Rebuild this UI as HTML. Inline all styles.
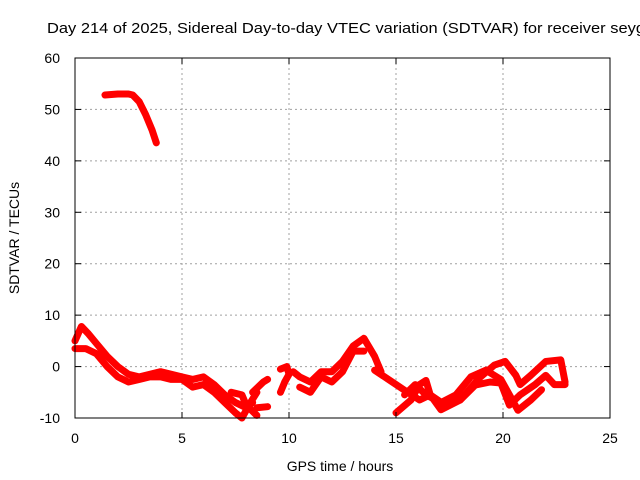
<!DOCTYPE html>
<html><head><meta charset="utf-8"><style>
body{margin:0;background:#fff}
svg{display:block;font-family:"Liberation Sans",sans-serif}
</style></head><body>
<svg id="chart" width="640" height="480">
<text x="47" y="33" font-size="15" textLength="598" lengthAdjust="spacingAndGlyphs">Day 214 of 2025, Sidereal Day-to-day VTEC variation (SDTVAR) for receiver seyg</text>
<g id="grid"></g>
<g id="data" fill="none" stroke="#ff0000" stroke-width="7" stroke-linejoin="round" stroke-linecap="round"></g>
<rect x="75" y="58" width="535" height="360" fill="none" stroke="#000" stroke-width="1"/>
<g id="ticks"></g>
<text x="340" y="471" font-size="14" text-anchor="middle">GPS time / hours</text>
<text transform="translate(19,238) rotate(-90)" font-size="14" text-anchor="middle">SDTVAR / TECUs</text>
</svg>
<script>
const xTicks=[0,5,10,15,20,25];
const yTicks=[-10,0,10,20,30,40,50,60];
const trackTop=[[1.4,52.8],[2,53],[2.5,53],[2.7,52.8],[3,51.5],[3.3,49],[3.6,46],[3.8,43.5]];
const trackA=[[0,5],[0.3,7.8],[0.6,6.5],[1,4.5],[1.5,2],[2,0],[2.5,-1.5],[3,-2],[3.5,-1.5],[4,-1],[4.5,-1.5],[5,-2],[5.5,-2.5],[6,-2],[6.5,-3.5],[7,-5.5],[7.5,-7],[8,-8],[8.3,-7]];
const trackB=[[0,3.5],[0.5,3.5],[1,2.5],[1.5,0],[2,-2],[2.5,-3],[3,-2.5],[3.5,-2],[4,-2],[4.5,-2.5],[5,-2.5],[5.5,-4],[6,-3.5],[6.5,-5],[7,-7],[7.5,-9],[7.8,-10],[8.2,-7],[8.5,-5]];
const trackC=[[7.3,-5],[7.8,-5.5],[8,-7.5],[8.5,-9.5]];
const trackD=[[8.3,-5],[8.8,-3],[9.0,-2.5]];
const trackE=[[8.5,-8],[9,-7.8]];
const trackF=[[9.6,-0.5],[9.9,0],[10,-1.5],[9.8,-3],[9.6,-5]];
const trackG=[[10.2,-1],[10.5,-2],[11,-3],[11.5,-1],[12,-1],[12.5,1],[13,4],[13.5,5.5],[14,2],[14.3,-1]];
const trackH=[[10.5,-4],[11,-5],[11.5,-2],[12,-3],[12.5,-1],[13,3],[13.5,3]];
const trackI=[[14,-0.7],[15.4,-4.6],[16.1,-6.5],[16.6,-5.5],[17.1,-8.4],[18,-6.5],[18.9,-2.2],[19.6,0.3],[20.1,1],[20.6,-1.7],[20.8,-3.5],[21.3,-1.7],[22,1],[22.7,1.3],[22.9,-3]];
const trackJ=[[15,-9],[15.7,-6.5],[16.1,-3.5],[16.4,-2.7],[16.6,-5.5],[17.3,-7.5],[18,-6.5],[18.7,-3.6],[19.4,-3],[19.9,-3.2],[20.3,-7.5],[20.8,-5.5],[21.5,-3.5],[22,-1.7],[22.4,-3.5],[22.9,-3.5]];
const trackK=[[15.4,-5.5],[15.9,-3.5],[16.4,-5.5],[17.1,-7],[17.8,-5.5],[18.5,-2],[19.2,-0.7],[19.9,-2.5],[20.3,-5.5],[20.7,-8.5],[21.3,-6.5],[21.8,-4.5]];
const tracks=[trackTop,trackA,trackB,trackC,trackD,trackE,trackF,trackG,trackH,trackI,trackJ,trackK];
const X=t=>75+t*21.4, Y=v=>58+(60-v)*360/70;
const NS="http://www.w3.org/2000/svg";
const grid=document.getElementById('grid'),ticks=document.getElementById('ticks'),data=document.getElementById('data');
function mk(tag,attrs,parent){const e=document.createElementNS(NS,tag);for(const k in attrs)e.setAttribute(k,attrs[k]);parent.appendChild(e);return e;}
xTicks.forEach(t=>{
  const x=X(t);
  if(t>0&&t<25){const g=mk('line',{x1:x,x2:x,y1:58,y2:418,stroke:'#a0a0a0','stroke-dasharray':'2,3'},grid);
  
  }
  mk('line',{x1:x,x2:x,y1:418,y2:412,stroke:'#000'},ticks);
  mk('line',{x1:x,x2:x,y1:58,y2:64,stroke:'#000'},ticks);
  const l=mk('text',{x:x,y:443,'font-size':14,'text-anchor':'middle'},ticks);l.textContent=t;
  
  
});
yTicks.forEach(v=>{
  const y=Y(v);
  if(v>-10&&v<60){const g=mk('line',{x1:75,x2:610,y1:y,y2:y,stroke:'#a0a0a0','stroke-dasharray':'2,3'},grid);
  
  }
  mk('line',{x1:75,x2:81,y1:y,y2:y,stroke:'#000'},ticks);
  mk('line',{x1:604,x2:610,y1:y,y2:y,stroke:'#000'},ticks);
  const l=mk('text',{x:60,y:y+5,'font-size':14,'text-anchor':'end'},ticks);l.textContent=v;
  
  
});
tracks.forEach((tr,i)=>{
  const p=mk('polyline',{points:tr.map(d=>X(d[0])+','+Y(d[1])).join(' ')},data);
  
  
});
</script>
</body></html>
